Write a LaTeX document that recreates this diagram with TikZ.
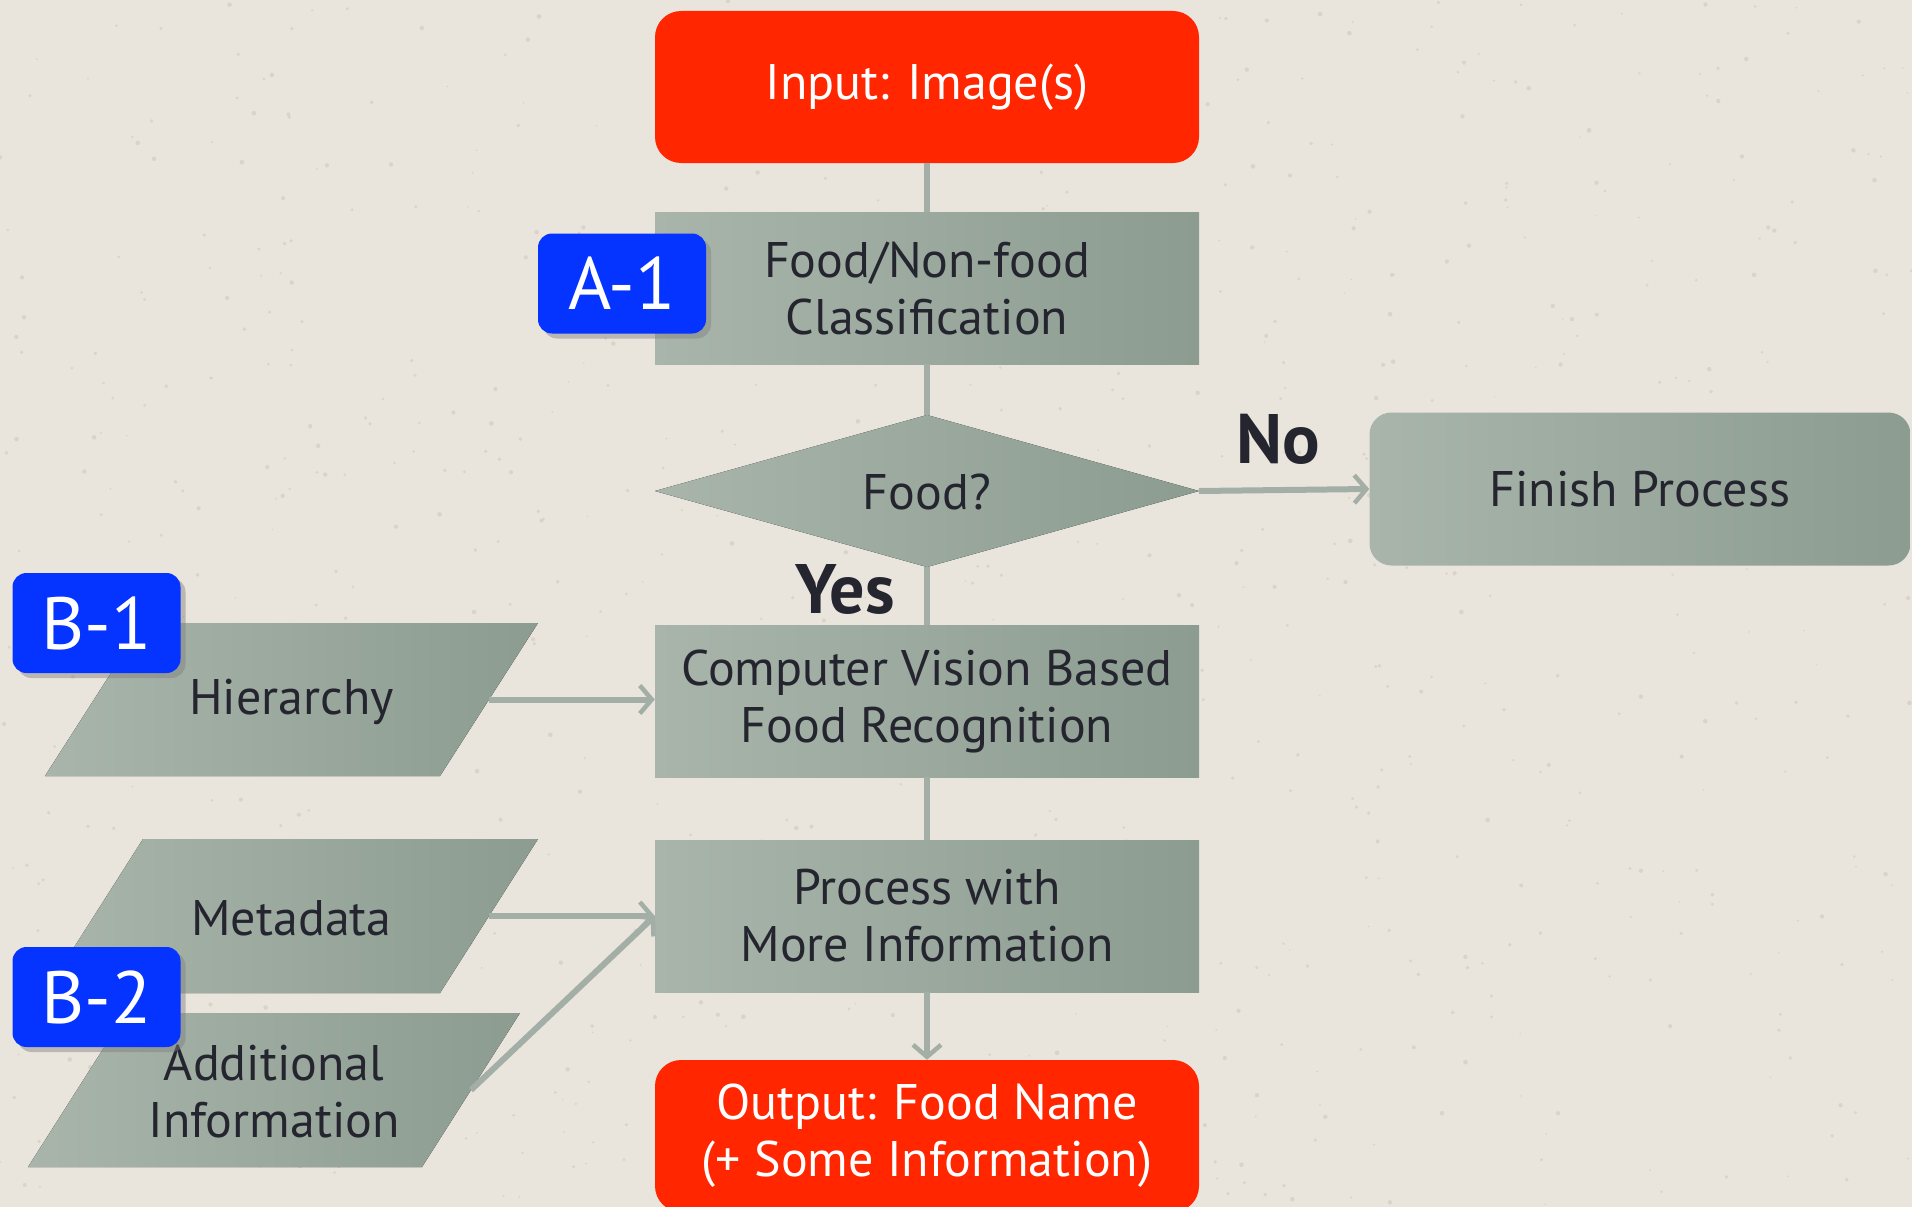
\documentclass[tikz,border=0pt]{standalone}
\usepackage{fontspec}
\setmainfont{PT Sans}
\usetikzlibrary{shapes.geometric,arrows.meta,shadows}
\definecolor{bg}{HTML}{EAE5DC}
\definecolor{speck}{HTML}{CFC8BC}
\definecolor{gl}{HTML}{A9B5AB}
\definecolor{gd}{HTML}{8C9C90}
\definecolor{rd}{HTML}{FF2600}
\definecolor{bl}{HTML}{0533FF}
\definecolor{ln}{HTML}{A3AFA6}
\definecolor{tx}{HTML}{25252F}
\begin{document}
\begin{tikzpicture}[x=1pt,y=-1pt,
  greyfill/.style={left color=gl,right color=gd,draw=none,text=tx,align=center,
    font=\fontsize{50}{57}\selectfont,inner sep=0pt},
  box/.style={greyfill,rectangle,minimum width=544pt,minimum height=152pt},
  plaintext/.style={text=tx,align=center,font=\fontsize{50}{57}\selectfont,inner sep=0pt},
  redbox/.style={rectangle,rounded corners=26pt,fill=rd,text=white,align=center,
    font=\fontsize{50}{57}\selectfont,minimum width=544pt,minimum height=152pt,inner sep=0pt},
  lab/.style={rectangle,rounded corners=14pt,fill=bl,text=white,
    font=\fontsize{74}{74}\selectfont,minimum width=168pt,minimum height=100pt,inner sep=0pt,
    drop shadow={shadow xshift=5pt,shadow yshift=-5pt,opacity=0.45}},
  yn/.style={text=tx,font=\fontsize{70}{70}\selectfont\bfseries,inner sep=0pt},
  conn/.style={draw=ln,line width=6pt},
  arr/.style={-{Straight Barb[length=12pt,width=28pt,line width=4.5pt]}}
]
\useasboundingbox (0,0) rectangle (1912,1207);
\clip (0,0) rectangle (1912,1207);
\fill[bg] (0,0) rectangle (1912,1207);
\pgfmathsetseed{7}
\foreach \i in {1,...,900}{
  \pgfmathsetmacro{\px}{rnd*1912}
  \pgfmathsetmacro{\py}{rnd*1207}
  \pgfmathsetmacro{\pr}{0.8+rnd*1.6}
  \fill[speck,opacity=0.6] (\px,\py) circle[radius=\pr pt];
}
% main column
\node[redbox] (inp) at (927,87) {Input: Image(s)};
\node[box] (cls) at (927,288) {Food/Non-food\\Classification};
% decision diamond
\coordinate (foodW) at (655,491);
\coordinate (foodN) at (927,415);
\coordinate (foodE) at (1199,491);
\coordinate (foodS) at (927,567);
\fill[left color=gl,right color=gd] (foodW) -- (foodN) -- (foodE) -- (foodS) -- cycle;
\node[plaintext] (food) at (927,492) {Food?};
\node[box,rounded corners=22pt,minimum width=541pt,minimum height=153pt] (fin) at (1640,489) {Finish Process};
\node[box] (cv) at (927,701) {Computer Vision Based\\Food Recognition};
\node[box] (proc) at (927,916) {Process with\\More Information};
\node[redbox] (out) at (927,1136) {Output: Food Name\\(+ Some Information)};
% input parallelograms
\fill[left color=gl,right color=gd] (45,776) -- (143,623) -- (538,623) -- (440,776) -- cycle;
\node[plaintext] (hier) at (291.5,702) {Hierarchy};
\coordinate (hierR) at (489,699.5);
\fill[left color=gl,right color=gd] (45,993) -- (143,839) -- (538,839) -- (440,993) -- cycle;
\node[plaintext] (meta) at (291.5,918) {Metadata};
\coordinate (metaR) at (489,916);
\fill[left color=gl,right color=gd] (28,1167) -- (126,1013) -- (520,1013) -- (422,1167) -- cycle;
\node[plaintext] (add) at (274,1092) {Additional\\Information};
\coordinate (addR) at (471,1090);
% connectors
\draw[conn] (inp) -- (cls);
\draw[conn] (cls) -- (foodN);
\draw[conn,arr] (foodE) -- (fin.west);
\draw[conn] (foodS) -- (cv);
\draw[conn] (cv) -- (proc);
\draw[conn,arr] (proc) -- (out);
\draw[conn,arr] (hierR) -- (hierR -| cv.west);
\draw[conn,arr] (metaR) -- (metaR -| proc.west);
\draw[conn,arr] (addR) -- (metaR -| proc.west);
% labels
\node[yn] (no) at (1278,439) {No};
\node[yn] (yes) at (845,589) {Yes};
\node[lab] (a1) at (622,283.5) {A-1};
\node[lab] (b1) at (96.5,623) {B-1};
\node[lab] (b2) at (96.5,997) {B-2};
\end{tikzpicture}
\end{document}
